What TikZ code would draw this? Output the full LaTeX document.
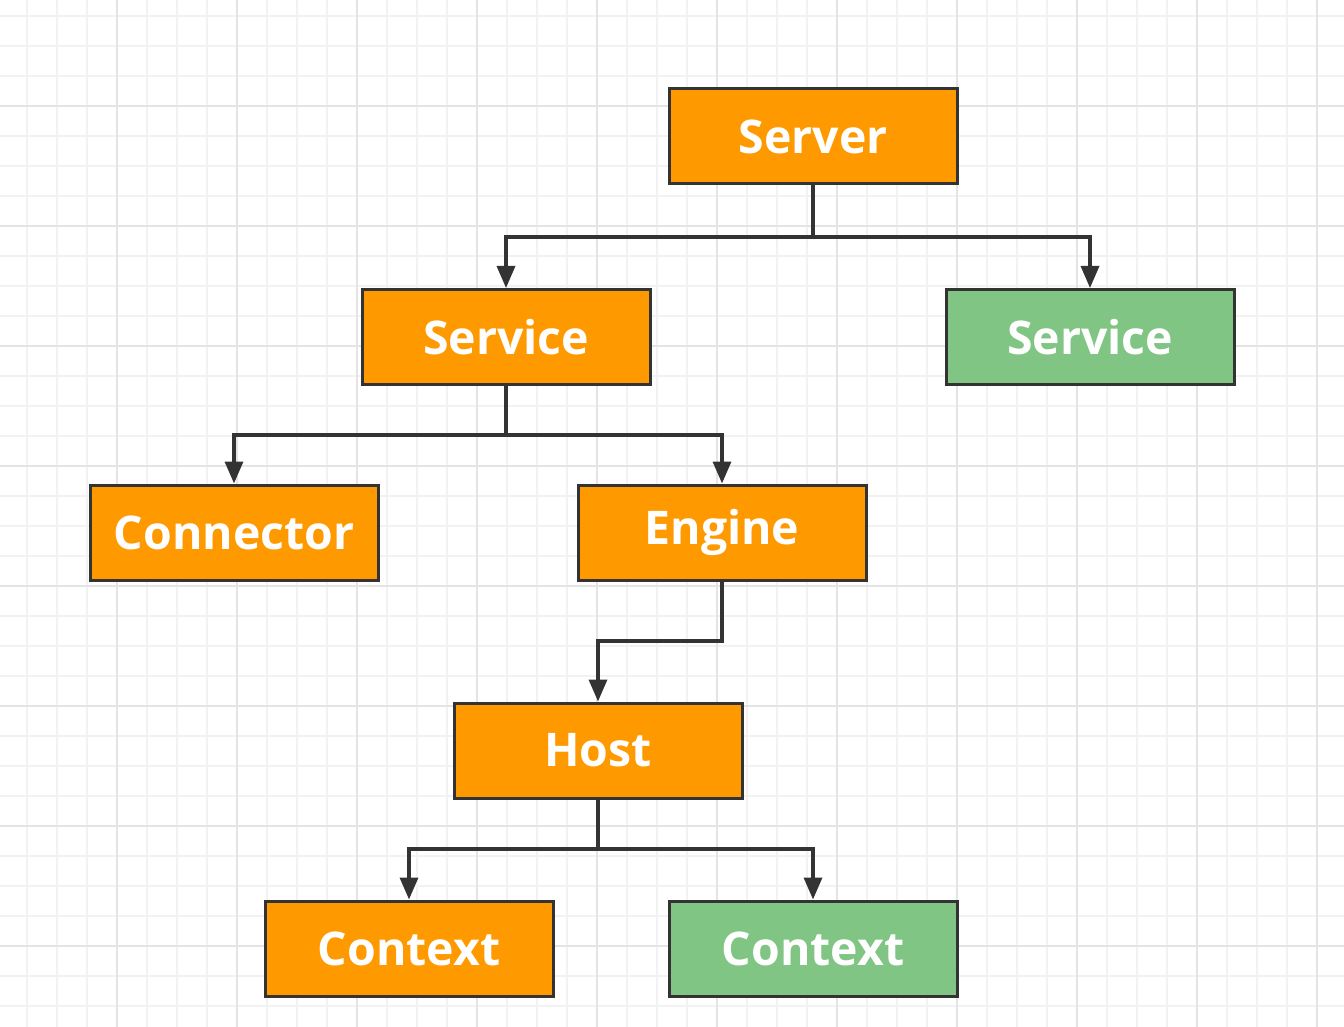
\documentclass[tikz,border=0pt]{standalone}
\usepackage{xcolor}
\usepackage{fontspec}
\setmainfont{Open Sans}
\usepackage{tikz}
\usetikzlibrary{arrows.meta,positioning,calc}
\definecolor{InkDark}{HTML}{333333}
\definecolor{BoxOrange}{HTML}{FF9900}
\definecolor{BoxGreen}{HTML}{80C583}
\definecolor{GridMinor}{HTML}{F2F2F2}
\definecolor{GridMajor}{HTML}{E4E4E4}
\tikzset{
  treebox/.style={draw=InkDark,line width=1.5pt,fill=BoxOrange,text=white,
    font=\fontsize{23.2}{28}\selectfont\bfseries,minimum width=144pt,minimum height=47.5pt,inner sep=0pt},
  leafbox/.style={treebox,fill=BoxGreen},
  treearrow/.style={-{Triangle[length=11pt,width=9pt]},line width=1.7pt,draw=InkDark}
}

\begin{document}
\begin{tikzpicture}[x=0.5pt,y=-0.5pt]
  \useasboundingbox (0,0) rectangle (1344,1027);
  \fill[white] (0,0) rectangle (1344,1027);
  \foreach \gx in {27,57,...,1340} \draw[GridMinor,line width=0.6pt] (\gx,0) -- (\gx,1027);
  \foreach \gy in {16,46,...,1027} \draw[GridMinor,line width=0.6pt] (0,\gy) -- (1344,\gy);
  \foreach \gx in {117,237,...,1340} \draw[GridMajor,line width=0.7pt] (\gx,0) -- (\gx,1027);
  \foreach \gy in {106,226,...,1027} \draw[GridMajor,line width=0.7pt] (0,\gy) -- (1344,\gy);

  \node[treebox] (server) at (813,136.5) {Server};
  \node[treebox] (serviceA) at (506,337) {Service};
  \node[leafbox] (serviceB) at (1090,337) {Service};
  \node[treebox] (connector) at (234,532.5) {Connector};
  \node[treebox] (engine) at (722,532.5) {Engine};
  \node[treebox] (host) at (598,750.5) {Host};
  \node[treebox] (contextA) at (409,948.5) {Context};
  \node[leafbox] (contextB) at (813,948.5) {Context};

  \coordinate (jServer) at (813,237);
  \coordinate (jService) at (506,435);
  \coordinate (jEngine) at (722,641);
  \coordinate (jHost) at (598,849);

  \draw[treearrow] (server.south) -- (jServer) -| (serviceA.north);
  \draw[treearrow] (jServer) -| (serviceB.north);
  \draw[treearrow] (serviceA.south) -- (jService) -| (connector.north);
  \draw[treearrow] (jService) -| (engine.north);
  \draw[treearrow] (engine.south) -- (jEngine) -| (host.north);
  \draw[treearrow] (host.south) -- (jHost) -| (contextA.north);
  \draw[treearrow] (jHost) -| (contextB.north);
\end{tikzpicture}
\end{document}
